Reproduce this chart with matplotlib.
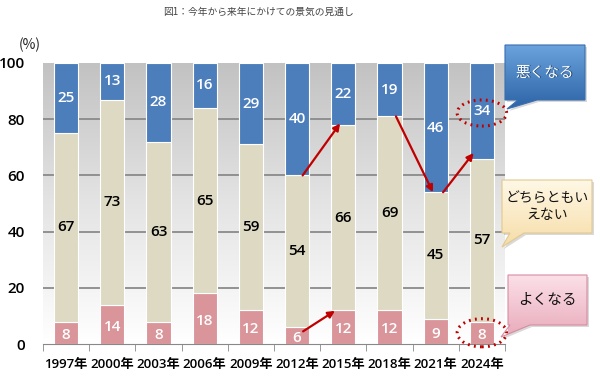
import numpy as np
import matplotlib
matplotlib.use("Agg")
import matplotlib.pyplot as plt
from matplotlib.patches import Polygon, Ellipse
from matplotlib.colors import LinearSegmentedColormap

plt.rcParams['font.family'] = ['Noto Sans CJK JP', 'DejaVu Sans']
NUMFONT = ['Open Sans', 'Noto Sans CJK JP', 'DejaVu Sans']

years = ["1997年", "2000年", "2003年", "2006年", "2009年", "2012年", "2015年", "2018年", "2021年", "2024年"]
good = [8, 14, 8, 18, 12, 6, 12, 12, 9, 8]
neutral = [67, 73, 63, 65, 59, 54, 66, 69, 45, 57]
bad = [25, 13, 28, 16, 29, 40, 22, 19, 46, 34]
yticks = [0, 20, 40, 60, 80, 100]
title = "図1：今年から来年にかけての景気の見通し"
legend_bad = "悪くなる"
legend_neutral = "どちらともい\nえない"
legend_good = "よくなる"

C_BAD = "#4C7EBC"
C_NEU = "#DDD9C3"
C_GOOD = "#D9959A"
RED = "#C00000"

W, H = 600, 379
fig = plt.figure(figsize=(6, 3.79), dpi=100)
fig.patch.set_facecolor("white")

L, R, T, B = 43, 505, 63, 344
ax = fig.add_axes([L / W, 1 - B / H, (R - L) / W, (B - T) / H])
n = len(years)
x = np.arange(n)
ax.set_xlim(-0.5, n - 0.5)
ax.set_ylim(0, 100)

# gradient background
grad = np.linspace(0, 1, 256).reshape(-1, 1)
bgcmap = LinearSegmentedColormap.from_list("bg", ["#C2C2C2", "#E4E4E4", "#FFFFFF"])
ax.imshow(grad, extent=(-0.5, n - 0.5, 0, 100), origin="upper", aspect="auto",
          cmap=bgcmap, zorder=0)
for yv in yticks[1:-1]:
    ax.axhline(yv, color="#8A8A8A", lw=1.3, zorder=1)

bw = 0.52
g = np.array(good); nu = np.array(neutral); b = np.array(bad)
bad_bottom = 100 - b          # shares are rounded; bars fill to 100 %
ax.bar(x, g, bw, color=C_GOOD, edgecolor="white", lw=0.8, zorder=2)
ax.bar(x, bad_bottom - g, bw, bottom=g, color=C_NEU, edgecolor="white", lw=0.8, zorder=2)
ax.bar(x, b, bw, bottom=bad_bottom, color=C_BAD, edgecolor="white", lw=0.8, zorder=2)

fs = 11
fw = 600
for i in range(n):
    ax.text(x[i], g[i] / 2 - 0.8, str(good[i]), ha="center", va="center", color="white",
            fontsize=fs, fontweight=fw, family=NUMFONT, zorder=4)
    ax.text(x[i], (g[i] + bad_bottom[i]) / 2, str(neutral[i]), ha="center", va="center",
            color="black", fontsize=fs, fontweight=fw, family=NUMFONT, zorder=4)
    ax.text(x[i], bad_bottom[i] + b[i] / 2, str(bad[i]), ha="center", va="center", color="white",
            fontsize=fs, fontweight=fw, family=NUMFONT, zorder=4)

for s in ["left", "top", "right"]:
    ax.spines[s].set_visible(False)
ax.spines["bottom"].set_color("#888888")
ax.spines["bottom"].set_zorder(5)
ax.set_yticks(yticks)
ax.set_yticklabels([str(v) for v in yticks], fontsize=11, fontweight=fw, family=NUMFONT)
ax.tick_params(axis="y", length=0, pad=13)
ax.set_xticks(x)
ax.set_xticklabels(years, fontsize=9.5, fontweight=fw, family=NUMFONT)
ax.tick_params(axis="x", length=0, pad=10)
ax.set_xticks(np.arange(-0.5, n, 1), minor=True)
ax.tick_params(axis="x", which="minor", length=5, color="#888888", direction="out")

# arrows
arrows = [((5.12, 60), (5.93, 78.5)),
          ((7.14, 81), (7.94, 54)),
          ((8.16, 54), (8.82, 68)),
          ((5.13, 4.5), (5.82, 11.8))]
for (x0, y0), (x1, y1) in arrows:
    ax.annotate("", xy=(x1, y1), xytext=(x0, y0),
                arrowprops=dict(arrowstyle="-|>", color=RED, lw=1.6, mutation_scale=10,
                                shrinkA=0, shrinkB=0), zorder=6, annotation_clip=False)

# dotted ellipses
for cy, hgt in [(82.2, 9.3), (4.0, 10.0)]:
    e = Ellipse((9, cy), 1.07, hgt, fill=False, edgecolor=RED, lw=2.2,
                linestyle=(0, (0.6, 1.4)), zorder=6, clip_on=False)
    ax.add_patch(e)

# overlay for callouts and title
ov = fig.add_axes([0, 0, 1, 1], zorder=10)
ov.set_xlim(0, W); ov.set_ylim(H, 0)
ov.axis("off")
ov.patch.set_alpha(0)

def callout(x0, y0, x1, y1, base_a, base_b, tip, c_top, c_bot, edge, text, tcolor, fsz, shadow=False):
    pts = [(x0, y0), (x1, y0), (x1, y1), (base_b, y1), tip, (base_a, y1), (x0, y1)]
    sh = Polygon([(px + 2, py + 2) for px, py in pts], closed=True, facecolor="#000000",
                 alpha=0.15, edgecolor="none")
    ov.add_patch(sh)
    poly = Polygon(pts, closed=True, facecolor="none", edgecolor=edge, lw=0.8, zorder=3)
    ov.add_patch(poly)
    cm = LinearSegmentedColormap.from_list("c", [c_top, c_bot])
    ymax = max(y1, tip[1])
    im = ov.imshow(np.linspace(0, 1, 128).reshape(-1, 1), extent=(x0, x1, ymax, y0),
                   origin="upper", aspect="auto", cmap=cm, zorder=2)
    im.set_clip_path(poly)
    if shadow:
        ov.text((x0 + x1) / 2 + 0.8, (y0 + y1) / 2 + 0.8, text, ha="center", va="center",
                fontsize=fsz, color="#1F3F66", zorder=4, linespacing=1.2)
    ov.text((x0 + x1) / 2, (y0 + y1) / 2, text, ha="center", va="center",
            fontsize=fsz, color=tcolor, zorder=5, linespacing=1.2)

callout(505, 45, 585, 100, 518, 537, (507, 109), "#6AA3DD", "#2C63A6", "#3A6EAF",
        legend_bad, "white", 10.5, shadow=True)
callout(502, 180, 592, 233, 510, 524, (502, 247), "#FFF8E6", "#F6DDA8", "#E2C98E",
        legend_neutral, "#111111", 10)
callout(508, 275, 587, 325, 510, 530, (501, 337), "#FBE0E8", "#E9AABB", "#D68CA0",
        legend_good, "#111111", 10.5)

ov.set_xlim(0, W); ov.set_ylim(H, 0)
ov.text(258, 12, title, ha="center", va="center", fontsize=7, color="#444444")
ov.text(30, 45, "(%)", ha="center", va="center", fontsize=10, color="#222222")

fig.savefig("out.png", dpi=100)
